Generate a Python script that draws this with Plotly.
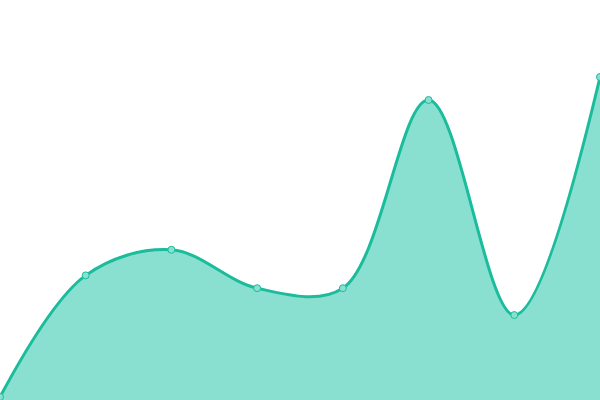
import plotly.graph_objects as go

# series values
x_idx = [0, 1, 2, 3, 4, 5, 6, 7]
values = [0, 38, 46, 34, 34, 92.8, 25.6, 100]

line_col = '#1abc9c'
fill_col = '#8ae0d0'
y_floor = -0.94

fig = go.Figure()
# invisible floor so the fill reaches the very bottom edge
fig.add_trace(go.Scatter(
    x=x_idx, y=[y_floor] * len(x_idx), mode='lines',
    line=dict(width=0), hoverinfo='skip',
))
fig.add_trace(go.Scatter(
    x=x_idx, y=values,
    mode='lines+markers',
    line=dict(color=line_col, width=3, shape='spline', smoothing=1),
    fill='tonexty', fillcolor=fill_col,
    marker=dict(size=7, color=fill_col, line=dict(color=line_col, width=1)),
    hoverinfo='x+y',
))

fig.update_layout(
    width=600, height=400,
    margin=dict(l=0, r=0, t=0, b=0),
    paper_bgcolor='white', plot_bgcolor='white',
    showlegend=False,
    xaxis=dict(range=[0, 7], visible=False, fixedrange=True),
    yaxis=dict(range=[y_floor, 124.06], visible=False, fixedrange=True),
)

# drop the page's default body margin so the chart sits flush in the window
fig.write_html("out.html", config={'displayModeBar': False},
               post_script="document.body.style.margin='0';"
                           "document.body.style.overflow='hidden';")
